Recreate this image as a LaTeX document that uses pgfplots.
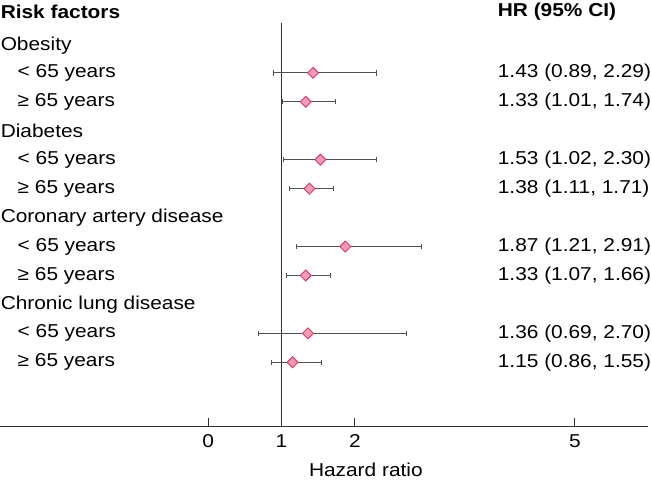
\documentclass[border=0pt]{standalone}
\usepackage{fontspec}
\setmainfont{Liberation Sans}[FakeStretch=1.12]
\usepackage{pgfplots}
\usepackage{pgfplotstable}
\pgfplotsset{compat=1.18}
\definecolor{mkfill}{HTML}{F29BB5}
\definecolor{mkedge}{HTML}{D83A6B}
\definecolor{ebar}{HTML}{505050}
\definecolor{axgray}{HTML}{333333}
\pgfplotstableread{
hr lo hi y
1.43 0.89 2.29 407
1.33 1.01 1.74 378
1.53 1.02 2.30 320
1.38 1.11 1.71 291
1.87 1.21 2.91 233
1.33 1.07 1.66 204
1.36 0.69 2.70 146
1.15 0.86 1.55 117
}\datatab
\begin{document}
\begin{tikzpicture}[font=\fontsize{14}{16}\selectfont]
\begin{axis}[width=488.25pt, height=360pt, scale only axis,
  xmin=-2.830, xmax=6.027, ymin=0, ymax=480,
  axis line style={draw=none}, ticks=none, clip=false]
\draw[line width=0.75pt, axgray] (axis cs:-2.830,53) -- (axis cs:5.99,53);
\draw[line width=1pt, axgray] (axis cs:1,53) -- (axis cs:1,457);
\pgfplotsinvokeforeach{0,2,5}{\draw[line width=0.75pt, axgray] (axis cs:#1,53) -- (axis cs:#1,61);}
\node[anchor=center] at (axis cs:0,38) {0};
\node[anchor=center] at (axis cs:1,38) {1};
\node[anchor=center] at (axis cs:2,38) {2};
\node[anchor=center] at (axis cs:5,38) {5};
\node[anchor=center] at (axis cs:2.15,9) {Hazard ratio};
% left column
\node[anchor=west, inner sep=0pt, font=\fontsize{14}{16}\selectfont\bfseries] at (axis cs:-2.830,468) {Risk factors};
\node[anchor=west, inner sep=0pt] at (axis cs:-2.830,434) {Obesity};
\node[anchor=west, inner sep=0pt] at (axis cs:-2.599,407) {< 65 years};
\node[anchor=west, inner sep=0pt] at (axis cs:-2.599,378) {≥ 65 years};
\node[anchor=west, inner sep=0pt] at (axis cs:-2.830,349) {Diabetes};
\node[anchor=west, inner sep=0pt] at (axis cs:-2.599,320) {< 65 years};
\node[anchor=west, inner sep=0pt] at (axis cs:-2.599,291) {≥ 65 years};
\node[anchor=west, inner sep=0pt] at (axis cs:-2.830,262) {Coronary artery disease};
\node[anchor=west, inner sep=0pt] at (axis cs:-2.599,233) {< 65 years};
\node[anchor=west, inner sep=0pt] at (axis cs:-2.599,204) {≥ 65 years};
\node[anchor=west, inner sep=0pt] at (axis cs:-2.830,175) {Chronic lung disease};
\node[anchor=west, inner sep=0pt] at (axis cs:-2.599,146) {< 65 years};
\node[anchor=west, inner sep=0pt] at (axis cs:-2.599,117) {≥ 65 years};
% right column
\node[anchor=west, inner sep=0pt, font=\fontsize{14}{16}\selectfont\bfseries] at (axis cs:3.946,468) {HR (95\% CI)};
\node[anchor=west, inner sep=0pt] at (axis cs:3.946,407) {1.43 (0.89, 2.29)};
\node[anchor=west, inner sep=0pt] at (axis cs:3.946,378) {1.33 (1.01, 1.74)};
\node[anchor=west, inner sep=0pt] at (axis cs:3.946,320) {1.53 (1.02, 2.30)};
\node[anchor=west, inner sep=0pt] at (axis cs:3.946,291) {1.38 (1.11, 1.71)};
\node[anchor=west, inner sep=0pt] at (axis cs:3.946,233) {1.87 (1.21, 2.91)};
\node[anchor=west, inner sep=0pt] at (axis cs:3.946,204) {1.33 (1.07, 1.66)};
\node[anchor=west, inner sep=0pt] at (axis cs:3.946,146) {1.36 (0.69, 2.70)};
\node[anchor=west, inner sep=0pt] at (axis cs:3.946,117) {1.15 (0.86, 1.55)};
\addplot[only marks, mark=square*, mark size=2.9pt,
  mark options={rotate=45, fill=mkfill, draw=mkedge, line width=0.7pt},
  error bars/.cd, x dir=both, x explicit, error mark=|,
  error bar style={ebar, line width=0.6pt},
  error mark options={ebar, mark size=2pt, line width=0.6pt}]
  table[x=hr, y=y, x error plus expr=\thisrow{hi}-\thisrow{hr}, x error minus expr=\thisrow{hr}-\thisrow{lo}] \datatab;
\end{axis}
\end{tikzpicture}
\end{document}
